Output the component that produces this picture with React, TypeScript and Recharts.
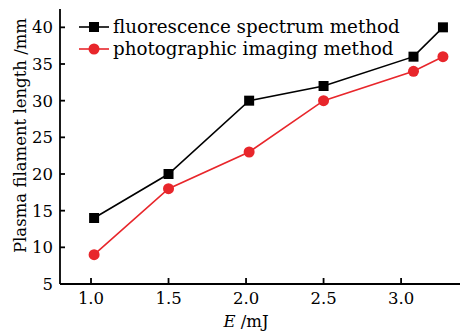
import { Line, LineChart, XAxis, YAxis } from "recharts";

const energy = [1.02, 1.5, 2.02, 2.5, 3.08, 3.27];
const fluorescence = [14, 20, 30, 32, 36, 40];
const photographic = [9, 18, 23, 30, 34, 36];

const xTicks = [1.0, 1.5, 2.0, 2.5, 3.0];
const yTicks = [5, 10, 15, 20, 25, 30, 35, 40];

const seriesNames = ["fluorescence spectrum method", "photographic imaging method"];

const data = energy.map((e, i) => ({
  e,
  fluorescence: fluorescence[i],
  photographic: photographic[i],
}));

const FONT = "'DejaVu Serif', serif";
const RED = "#e8262b";

const SquareDot = (props: any) => {
  const { cx, cy, index } = props;
  if (cx == null || cy == null) return null;
  return <rect key={index} x={cx - 5} y={cy - 5} width={10} height={10} fill="#000" />;
};

// legend sits on top of the plot, so it is drawn as an overlay and takes no layout space
const LegendBox = () => (
  <div
    style={{
      position: "absolute",
      left: 79,
      top: 16,
      fontFamily: FONT,
      fontSize: 18.3,
      lineHeight: "22px",
      color: "#000",
    }}
  >
    {seriesNames.map((name, i) => (
      <div key={name} style={{ display: "flex", alignItems: "center", whiteSpace: "nowrap" }}>
        <svg width={30} height={22} style={{ marginRight: 4 }}>
          <line x1={0} y1={11} x2={30} y2={11} stroke={i === 0 ? "#000" : RED} strokeWidth={1.6} />
          {i === 0 ? (
            <rect x={10} y={6} width={10} height={10} fill="#000" />
          ) : (
            <circle cx={15} cy={11} r={5.5} fill={RED} />
          )}
        </svg>
        <span>{name}</span>
      </div>
    ))}
  </div>
);

const XLabel = (props: any) => {
  const { viewBox } = props;
  const cx = viewBox.x + viewBox.width / 2;
  return (
    <text x={cx - 14} y={327} textAnchor="middle" fontFamily={FONT} fontSize={16.5} fill="#000">
      <tspan fontStyle="italic">E</tspan>
      <tspan> /mJ</tspan>
    </text>
  );
};

export default function App() {
  return (
    <div style={{ position: "absolute", left: 0, top: 0, width: 460, height: 331, background: "#fff" }}>
      <LineChart width={460} height={331} data={data} margin={{ top: 9, right: 0, bottom: 0, left: 0 }}>
        <XAxis
          dataKey="e"
          type="number"
          domain={[0.8, 3.38]}
          ticks={xTicks}
          tickFormatter={(v: number) => v.toFixed(1)}
          height={47}
          stroke="#000"
          strokeWidth={1.8}
          tickSize={-6}
          tickMargin={14}
          tick={{ fill: "#000", fontFamily: FONT, fontSize: 16.5 }}
          allowDataOverflow
          label={<XLabel />}
        />
        <XAxis
          xAxisId="top"
          orientation="top"
          type="number"
          domain={[0.8, 3.38]}
          tick={false}
          height={0}
          stroke="#000"
          strokeWidth={1.8}
        />
        <YAxis
          type="number"
          domain={[5, 42.5]}
          ticks={yTicks}
          width={60}
          stroke="#000"
          strokeWidth={1.8}
          tickSize={-5}
          tickMargin={12}
          tick={{ fill: "#000", fontFamily: FONT, fontSize: 16.5 }}
          allowDataOverflow
          label={{
            value: "Plasma filament length /mm",
            angle: -90,
            position: "center",
            dx: -10,
            dy: -11,
            style: { fontFamily: FONT, fontSize: 16.5, fill: "#000" },
          }}
        />
        <Line
          dataKey="fluorescence"
          stroke="#000"
          strokeWidth={1.6}
          dot={<SquareDot />}
          isAnimationActive={false}
        />
        <Line
          dataKey="photographic"
          stroke={RED}
          strokeWidth={1.6}
          dot={{ r: 5.5, fill: RED, stroke: RED, strokeWidth: 0 }}
          isAnimationActive={false}
        />
      </LineChart>
      <LegendBox />
    </div>
  );
}
